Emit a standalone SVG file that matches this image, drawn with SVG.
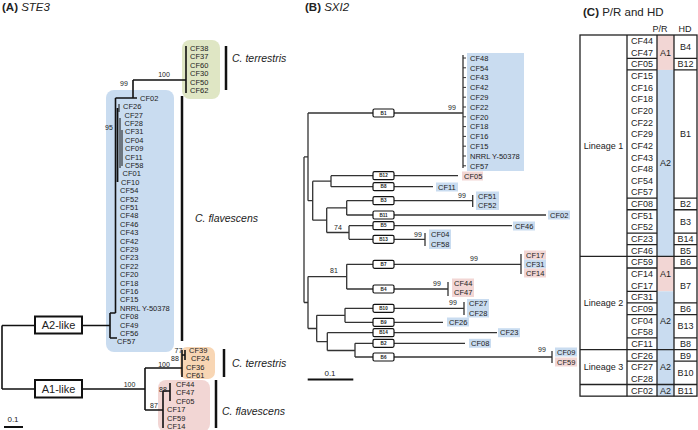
<svg xmlns="http://www.w3.org/2000/svg" width="698" height="430" viewBox="0 0 698 430">
<style>
text{font-family:"Liberation Sans",Arial,sans-serif;fill:#222}
.lab{font-size:7.5px}
.bs{font-size:7px}
.sp{font-size:10.5px;font-style:italic}
.ttl{font-size:11.5px}
.tl{stroke:#111;stroke-width:1.6;fill:none}
.tb{stroke:#333;stroke-width:1.3;fill:none}
.bar{stroke:#111;stroke-width:2.5}
.bx{fill:#fff;stroke:#111;stroke-width:1.2}
.bt{font-size:4.6px;font-weight:bold;text-anchor:middle}
.tab{font-size:9px;text-anchor:middle}
.grid{stroke:#222;stroke-width:1.3;fill:none}
.blue{fill:#c9dcf0}
.pink{fill:#f2d6d4}
.green{fill:#dfe6c4}
.orange{fill:#f8d6b4}
.mid{text-anchor:middle}
</style>

<!-- ========== Panel A ========== -->
<g id="panel-a">
<text x="2" y="11" class="ttl"><tspan font-weight="bold">(A)</tspan> <tspan font-style="italic">STE3</tspan></text>

<g id="a-clade-backgrounds">
<rect class="green" x="182" y="40" width="38" height="59" rx="8"/>
<rect class="blue" x="106" y="90" width="68" height="262" rx="8"/>
<rect class="orange" x="180" y="347" width="35" height="32" rx="7"/>
<rect class="pink" x="158" y="380" width="52" height="52" rx="8"/>
</g>

<g id="a-connectors">
<path class="tl" d="M2,325.5V389"/>
<path class="tl" d="M2,325.5H35M82,325.5H110"/>
<path class="tl" d="M2,389H35M82,389H145"/>
<path class="tl" d="M110,313V338M110,313H115.5M110,338H117"/>
<path class="tl" d="M115.5,98V313"/>
<path class="tl" d="M115.5,98H137M133,80V98M133,80H186"/>
<path class="tl" d="M186,46V93"/>
<path d="M117.5,108V182" stroke="#111" stroke-width="1.8"/>
<path d="M120,118V168M122,130V166M119,104V112" stroke="#111" stroke-width="1"/>
<path class="tl" d="M145,368V410M145,368H182M182,350V377M182,355H185M185,350V360"/>
<path class="tl" d="M145,410H163M163,391V428M163,391H170M170,383V401"/>
</g>

<g id="a-bootstrap" class="bs">
<text x="124" y="85.5" class="mid">99</text>
<text x="164" y="77" class="mid">100</text>
<text x="109" y="130" class="mid">95</text>
<text x="178.5" y="352.5" class="mid">77</text>
<text x="175" y="360.5" class="mid">88</text>
<text x="164" y="366.5" class="mid">100</text>
<text x="129.5" y="386.5" class="mid">100</text>
<text x="163" y="392" class="mid">88</text>
<text x="154" y="408" class="mid">87</text>
</g>

<g id="a2-like">
<rect x="35" y="316.5" width="47" height="17" fill="#fff" stroke="#111" stroke-width="2"/>
<text x="58.5" y="329.3" font-size="11px" class="mid">A2-like</text>
</g>
<g id="a1-like">
<rect x="35" y="380" width="47" height="17.5" fill="#fff" stroke="#111" stroke-width="2"/>
<text x="58.5" y="393" font-size="11px" class="mid">A1-like</text>
</g>

<g id="a-green-tips" class="lab">
<text x="190" y="50.7">CF38</text>
<text x="190" y="59.2">CF37</text>
<text x="190" y="67.7">CF60</text>
<text x="190" y="76.2">CF30</text>
<text x="190" y="84.7">CF50</text>
<text x="190" y="93.2">CF62</text>
</g>

<g id="a-blue-tips" class="lab">
<text x="140" y="100.7">CF02</text>
<text x="123" y="109.1">CF26</text>
<text x="124.5" y="117.5">CF27</text>
<text x="124.5" y="125.9">CF28</text>
<text x="125" y="134.3">CF31</text>
<text x="125" y="142.7">CF04</text>
<text x="125" y="151.1">CF09</text>
<text x="125" y="159.5">CF11</text>
<text x="125" y="167.9">CF58</text>
<text x="122.5" y="176.3">CF01</text>
<text x="121" y="184.7">CF10</text>
<text x="120" y="193.1">CF54</text>
<text x="120" y="201.5">CF52</text>
<text x="120" y="209.9">CF51</text>
<text x="120" y="218.3">CF48</text>
<text x="120" y="226.7">CF46</text>
<text x="120" y="235.1">CF43</text>
<text x="120" y="243.5">CF42</text>
<text x="120" y="251.9">CF29</text>
<text x="120" y="260.3">CF23</text>
<text x="120" y="268.7">CF22</text>
<text x="120" y="277.1">CF20</text>
<text x="120" y="285.5">CF18</text>
<text x="120" y="293.9">CF16</text>
<text x="120" y="302.3">CF15</text>
<text x="120" y="310.7">NRRL Y-50378</text>
<text x="120" y="319.1">CF08</text>
<text x="120" y="327.5">CF49</text>
<text x="120" y="335.9">CF56</text>
<text x="117" y="344.3">CF57</text>
</g>

<g id="a-orange-tips" class="lab">
<text x="189" y="352.7">CF39</text>
<text x="191" y="361.2">CF24</text>
<text x="186" y="369.7">CF36</text>
<text x="186" y="378.2">CF61</text>
</g>

<g id="a-pink-tips" class="lab">
<text x="176" y="386.7">CF44</text>
<text x="176" y="395.2">CF47</text>
<text x="176" y="403.7">CF05</text>
<text x="167" y="412.2">CF17</text>
<text x="167" y="420.7">CF59</text>
<text x="167" y="429.2">CF14</text>
</g>

<g id="a-species">
<path class="bar" d="M226,46V90M182,96V341M224,349V377M216,380V428"/>
<text x="232" y="62" class="sp">C. terrestris</text>
<text x="195" y="222" class="sp">C. flavescens</text>
<text x="232" y="367" class="sp">C. terrestris</text>
<text x="222" y="414.5" class="sp">C. flavescens</text>
</g>

<g id="a-scale">
<text x="13" y="422" class="mid" font-size="8px">0.1</text>
<path d="M4,427H23" stroke="#111" stroke-width="2"/>
</g>
</g>

<!-- ========== Panel B ========== -->
<g id="panel-b">
<text x="305" y="11" class="ttl"><tspan font-weight="bold">(B)</tspan> <tspan font-style="italic">SXI2</tspan></text>

<g id="b-label-backgrounds">
<rect class="blue" x="467" y="53" width="57" height="118"/>
<rect class="pink" x="462" y="171.5" width="21" height="9"/>
<rect class="blue" x="436" y="182.5" width="22" height="9"/>
<rect class="blue" x="476" y="191.5" width="23" height="18.5"/>
<rect class="blue" x="548" y="210.5" width="22" height="9"/>
<rect class="blue" x="513" y="221.5" width="22" height="9"/>
<rect class="blue" x="429" y="229.5" width="22" height="19.5"/>
<rect class="pink" x="524" y="250.5" width="22" height="9"/>
<rect class="blue" x="524" y="259.5" width="22" height="9"/>
<rect class="pink" x="524" y="268.5" width="22" height="9"/>
<rect class="pink" x="452" y="278.5" width="22" height="18.5"/>
<rect class="blue" x="467" y="299" width="22" height="18.5"/>
<rect class="blue" x="447" y="317.5" width="22" height="9"/>
<rect class="blue" x="498" y="328.2" width="22" height="9"/>
<rect class="blue" x="469" y="338.8" width="22" height="9"/>
<rect class="blue" x="555" y="347.5" width="22" height="9"/>
<rect class="pink" x="555" y="357.5" width="22" height="9"/>
</g>

<g id="b-connectors" class="tb">
<path d="M304,156.9V302.5M304,156.9H308M308,113V200.7M308,113H463"/>
<path d="M463,55V168"/>
<path d="M463,58H466M463,67.8H466M463,77.6H466M463,87.4H466M463,97.2H466M463,107H466M463,116.8H466M463,126.6H466M463,136.4H466M463,146.2H466M463,156H466M463,165.8H466" stroke-width="1"/>
<path d="M308,200.7H312.7M312.7,181.2V220.2M312.7,181.2H331M331,175.7V186.7"/>
<path d="M331,175.7H458M331,186.7H433"/>
<path d="M312.7,220.2H326.7M326.7,207.9V232.5M326.7,207.9H346.7M346.7,200.7V215"/>
<path d="M346.7,200.7H472.7M472.7,195V207M346.7,215H546"/>
<path d="M326.7,232.5H349M349,225.7V239.3M349,225.7H512M349,239.3H425M425,233V246"/>
<path d="M304,302.5H308M308,276.6V328.5M308,276.6H346.7M346.7,264.3V289"/>
<path d="M346.7,264.3H521M521,254V274M346.7,289H448M448,282V296"/>
<path d="M308,328.5H316.7M316.7,315.3V341.6M316.7,315.3H345M345,308.3V322.3"/>
<path d="M345,308.3H464M464,302V315M345,322.3H443"/>
<path d="M316.7,341.6H327.3M327.3,332.7V350.5M327.3,332.7H497M327.3,350.5H355M355,343.3V357"/>
<path d="M355,343.3H465M355,357H552M552,351V363"/>
</g>

<g id="b-box-b1"><rect class="bx" x="373" y="109" width="21" height="8" rx="1.5"/><text x="383.5" y="114.6" class="bt">B1</text></g>
<g id="b-box-b12"><rect class="bx" x="373" y="171.7" width="21" height="8" rx="1.5"/><text x="383.5" y="177.3" class="bt">B12</text></g>
<g id="b-box-b8"><rect class="bx" x="373" y="182.7" width="21" height="8" rx="1.5"/><text x="383.5" y="188.3" class="bt">B8</text></g>
<g id="b-box-b3"><rect class="bx" x="373" y="196.7" width="21" height="8" rx="1.5"/><text x="383.5" y="202.3" class="bt">B3</text></g>
<g id="b-box-b11"><rect class="bx" x="373" y="211" width="21" height="8" rx="1.5"/><text x="383.5" y="216.6" class="bt">B11</text></g>
<g id="b-box-b5"><rect class="bx" x="373" y="221.7" width="21" height="8" rx="1.5"/><text x="383.5" y="227.3" class="bt">B5</text></g>
<g id="b-box-b13"><rect class="bx" x="373" y="235.3" width="21" height="8" rx="1.5"/><text x="383.5" y="240.9" class="bt">B13</text></g>
<g id="b-box-b7"><rect class="bx" x="373" y="260.3" width="21" height="8" rx="1.5"/><text x="383.5" y="265.9" class="bt">B7</text></g>
<g id="b-box-b4"><rect class="bx" x="373" y="285" width="21" height="8" rx="1.5"/><text x="383.5" y="290.6" class="bt">B4</text></g>
<g id="b-box-b10"><rect class="bx" x="373" y="304.3" width="21" height="8" rx="1.5"/><text x="383.5" y="309.9" class="bt">B10</text></g>
<g id="b-box-b9"><rect class="bx" x="373" y="318.3" width="21" height="8" rx="1.5"/><text x="383.5" y="323.9" class="bt">B9</text></g>
<g id="b-box-b14"><rect class="bx" x="373" y="328.7" width="21" height="8" rx="1.5"/><text x="383.5" y="334.3" class="bt">B14</text></g>
<g id="b-box-b2"><rect class="bx" x="373" y="339.3" width="21" height="8" rx="1.5"/><text x="383.5" y="344.9" class="bt">B2</text></g>
<g id="b-box-b6"><rect class="bx" x="373" y="353" width="21" height="8" rx="1.5"/><text x="383.5" y="358.6" class="bt">B6</text></g>

<g id="b-bootstrap" class="bs">
<text x="452" y="109.5" class="mid">99</text>
<text x="462" y="197.5" class="mid">99</text>
<text x="338" y="230" class="mid">74</text>
<text x="418" y="236.5" class="mid">99</text>
<text x="334" y="273" class="mid">81</text>
<text x="474" y="261" class="mid">99</text>
<text x="437" y="285.5" class="mid">99</text>
<text x="453" y="305" class="mid">99</text>
<text x="542" y="352" class="mid">99</text>
</g>

<g id="b-tips" class="lab">
<text x="470" y="60.7">CF48</text>
<text x="470" y="70.5">CF54</text>
<text x="470" y="80.3">CF43</text>
<text x="470" y="90.1">CF42</text>
<text x="470" y="99.9">CF29</text>
<text x="470" y="109.7">CF22</text>
<text x="470" y="119.5">CF20</text>
<text x="470" y="129.3">CF18</text>
<text x="470" y="139.1">CF16</text>
<text x="470" y="148.9">CF15</text>
<text x="470" y="158.7">NRRL Y-50378</text>
<text x="470" y="168.5">CF57</text>
<text x="464" y="178.7">CF05</text>
<text x="438" y="189.7">CF11</text>
<text x="478" y="198.7">CF51</text>
<text x="478" y="208.2">CF52</text>
<text x="550" y="217.7">CF02</text>
<text x="515" y="228.7">CF46</text>
<text x="431" y="236.7">CF04</text>
<text x="431" y="247">CF58</text>
<text x="526" y="257.7">CF17</text>
<text x="526" y="266.7">CF31</text>
<text x="526" y="275.7">CF14</text>
<text x="454" y="285.7">CF44</text>
<text x="454" y="294.7">CF47</text>
<text x="469" y="306">CF27</text>
<text x="469" y="315.5">CF28</text>
<text x="449" y="324.8">CF26</text>
<text x="500" y="335.4">CF23</text>
<text x="471" y="346">CF08</text>
<text x="557" y="354.7">CF09</text>
<text x="557" y="364.7">CF59</text>
</g>

<g id="b-scale">
<text x="330" y="376" class="mid" font-size="8px">0.1</text>
<path d="M307.7,379.5H353.3" stroke="#111" stroke-width="2"/>
</g>
</g>

<!-- ========== Panel C ========== -->
<g id="panel-c">
<text x="583" y="16" class="ttl"><tspan font-weight="bold">(C)</tspan> P/R and HD</text>
<text x="660" y="31.5" class="tab">P/R</text>
<text x="685" y="31.5" class="tab">HD</text>

<g id="c-fills">
<rect class="pink" x="657" y="35" width="17" height="34.95"/>
<rect class="blue" x="657" y="69.95" width="17" height="186.4"/>
<rect class="pink" x="657" y="256.35" width="17" height="34.95"/>
<rect class="blue" x="657" y="291.3" width="17" height="104.85"/>
</g>

<g id="c-grid" class="grid">
<rect x="580" y="35" width="117" height="361.15"/>
<path d="M627,35V396.15M657,35V396.15M674,35V396.15"/>
<path d="M580,256.35H697M580,349.55H697M580,384.5H697"/>
<path d="M627,58.3H657M627,69.95H657M627,198.1H657M627,209.75H657M627,233.05H657M627,244.7H657M627,268H657M627,291.3H657M627,302.95H657M627,314.6H657M627,337.9H657M627,361.2H657"/>
<path d="M674,58.3H697M674,69.95H697M674,198.1H697M674,209.75H697M674,233.05H697M674,244.7H697M674,268H697M674,302.95H697M674,314.6H697M674,337.9H697M674,361.2H697"/>
</g>

<g id="c-lineage" class="tab">
<text x="603.5" y="148.9">Lineage 1</text>
<text x="603.5" y="306.15">Lineage 2</text>
<text x="603.5" y="370.2">Lineage 3</text>
</g>

<g id="c-strains" class="tab">
<text x="642" y="44">CF44</text>
<text x="642" y="55.65">CF47</text>
<text x="642" y="67.3">CF05</text>
<text x="642" y="78.95">CF15</text>
<text x="642" y="90.6">CF16</text>
<text x="642" y="102.25">CF18</text>
<text x="642" y="113.9">CF20</text>
<text x="642" y="125.55">CF22</text>
<text x="642" y="137.2">CF29</text>
<text x="642" y="148.85">CF42</text>
<text x="642" y="160.5">CF43</text>
<text x="642" y="172.15">CF48</text>
<text x="642" y="183.8">CF54</text>
<text x="642" y="195.45">CF57</text>
<text x="642" y="207.1">CF08</text>
<text x="642" y="218.75">CF51</text>
<text x="642" y="230.4">CF52</text>
<text x="642" y="242.05">CF23</text>
<text x="642" y="253.7">CF46</text>
<text x="642" y="265.35">CF59</text>
<text x="642" y="277">CF14</text>
<text x="642" y="288.65">CF17</text>
<text x="642" y="300.3">CF31</text>
<text x="642" y="311.95">CF09</text>
<text x="642" y="323.6">CF04</text>
<text x="642" y="335.25">CF58</text>
<text x="642" y="346.9">CF11</text>
<text x="642" y="358.55">CF26</text>
<text x="642" y="370.2">CF27</text>
<text x="642" y="381.85">CF28</text>
<text x="642" y="393.5">CF02</text>
</g>

<g id="c-pr" class="tab">
<text x="665.5" y="55.7">A1</text>
<text x="665.5" y="166.35">A2</text>
<text x="665.5" y="277">A1</text>
<text x="665.5" y="323.6">A2</text>
<text x="665.5" y="370.2">A2</text>
<text x="665.5" y="393.5">A2</text>
</g>

<g id="c-hd" class="tab">
<text x="685.5" y="49.85">B4</text>
<text x="685.5" y="67.3">B12</text>
<text x="685.5" y="137.2">B1</text>
<text x="685.5" y="207.1">B2</text>
<text x="685.5" y="224.6">B3</text>
<text x="685.5" y="242.05">B14</text>
<text x="685.5" y="253.7">B5</text>
<text x="685.5" y="265.35">B6</text>
<text x="685.5" y="288.7">B7</text>
<text x="685.5" y="311.95">B6</text>
<text x="685.5" y="329.45">B13</text>
<text x="685.5" y="346.9">B8</text>
<text x="685.5" y="358.55">B9</text>
<text x="685.5" y="376.05">B10</text>
<text x="685.5" y="393.5">B11</text>
</g>
</g>
</svg>
